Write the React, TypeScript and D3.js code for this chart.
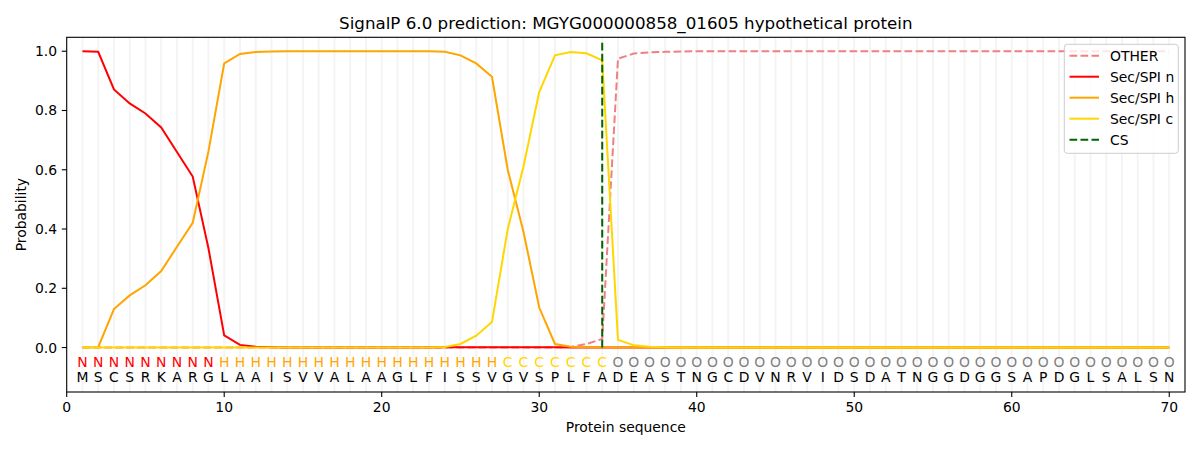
import * as d3 from "d3"

const TITLE = "SignalP 6.0 prediction: MGYG000000858_01605 hypothetical protein"

const residues = "M S C S R K A R G L A A I S V V A L A A G L F I S S V G V S P L F A D E A S T N G C D V N R V I D S D A T N G G D G G S A P D G L S A L S N".split(" ")
const regions = "N N N N N N N N N H H H H H H H H H H H H H H H H H H C C C C C C C O O O O O O O O O O O O O O O O O O O O O O O O O O O O O O O O O O O O".split(" ")

const otherVals = [
  0, 0, 0, 0, 0, 0, 0, 0, 0, 0,
  0, 0, 0, 0, 0, 0, 0, 0, 0, 0,
  0, 0, 0, 0, 0, 0, 0, 0, 0, 0,
  0, 0.002, 0.012, 0.029, 0.975, 0.992, 0.996, 0.998, 0.999, 1,
  1, 1, 1, 1, 1, 1, 1, 1, 1, 1,
  1, 1, 1, 1, 1, 1, 1, 1, 1, 1,
  1, 1, 1, 1, 1, 1, 1, 1, 1, 1,
]
const nVals = [
  1.0, 0.998, 0.871, 0.824, 0.79, 0.743, 0.66, 0.577, 0.335, 0.041,
  0.009, 0.003, 0.001, 0, 0, 0, 0, 0, 0, 0,
  0, 0, 0, 0.001, 0.001, 0.001, 0.001, 0.001, 0.001, 0.001,
  0.001, 0, 0, 0, 0, 0, 0, 0, 0, 0,
  0, 0, 0, 0, 0, 0, 0, 0, 0, 0,
  0, 0, 0, 0, 0, 0, 0, 0, 0, 0,
  0, 0, 0, 0, 0, 0, 0, 0, 0, 0,
]
const hVals = [
  0, 0.001, 0.13, 0.176, 0.21, 0.258, 0.34, 0.421, 0.662, 0.959,
  0.991, 0.997, 0.999, 1, 1, 1, 1, 1, 1, 1,
  1, 1, 1, 0.998, 0.986, 0.959, 0.914, 0.6, 0.391, 0.135,
  0.012, 0.003, 0.001, 0.001, 0, 0, 0, 0, 0, 0,
  0, 0, 0, 0, 0, 0, 0, 0, 0, 0,
  0, 0, 0, 0, 0, 0, 0, 0, 0, 0,
  0, 0, 0, 0, 0, 0, 0, 0, 0, 0,
]
const cVals = [
  0, 0, 0, 0, 0, 0, 0, 0, 0, 0,
  0, 0, 0, 0, 0, 0, 0, 0, 0, 0,
  0, 0, 0, 0.002, 0.012, 0.04, 0.086, 0.399, 0.611, 0.862,
  0.986, 0.997, 0.993, 0.969, 0.026, 0.008, 0.003, 0.001, 0, 0,
  0, 0, 0, 0, 0, 0, 0, 0, 0, 0,
  0, 0, 0, 0, 0, 0, 0, 0, 0, 0,
  0, 0, 0, 0, 0, 0, 0, 0, 0, 0,
]
const CS_POS = 34

const xTicks = [0, 10, 20, 30, 40, 50, 60, 70]
const yTicks = [0, 0.2, 0.4, 0.6, 0.8, 1.0]

const series = [
  { name: "OTHER", values: otherVals, color: "#f08080", dash: "7.7,3.3" },
  { name: "Sec/SPI n", values: nVals, color: "red", dash: null },
  { name: "Sec/SPI h", values: hVals, color: "orange", dash: null },
  { name: "Sec/SPI c", values: cVals, color: "gold", dash: null },
]

const regionColor: Record<string, string> = { N: "red", H: "orange", C: "gold", O: "gray" }

const W = 1200
const H = 450
const M = { left: 66.7, right: 1185, top: 37.3, bottom: 392 }
const FONT = "DejaVu Sans, sans-serif"

export default function App() {
  const x = d3.scaleLinear().domain([0, 71]).range([M.left, M.right])
  const y = d3.scaleLinear().domain([-0.15, 1.047]).range([M.bottom, M.top])

  const line = d3
    .line<number>()
    .x((_, i) => x(i + 1))
    .y((d) => y(d))

  const legendItems = [
    ...series.map((s) => ({ name: s.name, color: s.color, dash: s.dash })),
    { name: "CS", color: "darkgreen", dash: "7.7,3.3" },
  ]

  return (
    <svg
      width={W}
      height={H}
      style={{ position: "absolute", left: 0, top: 0, background: "white" }}
      fontFamily={FONT}
    >
      {/* per-residue gridlines */}
      {residues.map((_, i) => (
        <line
          key={`g${i}`}
          x1={x(i + 1)}
          x2={x(i + 1)}
          y1={M.top}
          y2={M.bottom}
          stroke="#f4f4f4"
          strokeWidth={2}
        />
      ))}

      {series.map((s) => (
        <path
          key={s.name}
          d={line(s.values) ?? ""}
          fill="none"
          stroke={s.color}
          strokeWidth={2}
          strokeDasharray={s.dash ?? undefined}
        />
      ))}

      <line
        x1={x(CS_POS)}
        x2={x(CS_POS)}
        y1={y(0)}
        y2={y(1.035)}
        stroke="darkgreen"
        strokeWidth={2}
        strokeDasharray="7.7,3.3"
      />

      {/* region letters + sequence */}
      {residues.map((r, i) => (
        <g key={`t${i}`} fontSize={13.9} textAnchor="middle" dominantBaseline="central">
          <text x={x(i + 1)} y={y(-0.05)} fill={regionColor[regions[i]]}>
            {regions[i]}
          </text>
          <text x={x(i + 1)} y={y(-0.1)} fill="black">
            {r}
          </text>
        </g>
      ))}

      {/* axes frame */}
      <rect
        x={M.left}
        y={M.top}
        width={M.right - M.left}
        height={M.bottom - M.top}
        fill="none"
        stroke="black"
        strokeWidth={1.1}
      />

      {xTicks.map((t) => (
        <g key={`x${t}`}>
          <line x1={x(t)} x2={x(t)} y1={M.bottom} y2={M.bottom + 4.9} stroke="black" strokeWidth={1.1} />
          <text x={x(t)} y={M.bottom + 9.7} fontSize={13.9} textAnchor="middle" dominantBaseline="hanging">
            {t}
          </text>
        </g>
      ))}
      {yTicks.map((t) => (
        <g key={`y${t}`}>
          <line x1={M.left - 4.9} x2={M.left} y1={y(t)} y2={y(t)} stroke="black" strokeWidth={1.1} />
          <text x={M.left - 9.7} y={y(t)} fontSize={13.9} textAnchor="end" dominantBaseline="central">
            {t.toFixed(1)}
          </text>
        </g>
      ))}

      <text x={(M.left + M.right) / 2} y={432} fontSize={13.9} textAnchor="middle">
        Protein sequence
      </text>
      <text
        transform={`translate(26,${(M.top + M.bottom) / 2}) rotate(-90)`}
        fontSize={13.9}
        textAnchor="middle"
      >
        Probability
      </text>
      <text x={(M.left + M.right) / 2} y={29} fontSize={16.7} textAnchor="middle">
        {TITLE}
      </text>

      {/* legend */}
      <g>
        <rect
          x={1064.3}
          y={44.3}
          width={114}
          height={109}
          rx={3}
          fill="white"
          fillOpacity={0.8}
          stroke="#cccccc"
          strokeWidth={1}
        />
        {legendItems.map((it, i) => {
          const cy = 55.7 + i * 21
          return (
            <g key={it.name}>
              <line
                x1={1069.5}
                x2={1099}
                y1={cy}
                y2={cy}
                stroke={it.color}
                strokeWidth={2}
                strokeDasharray={it.dash ?? undefined}
              />
              <text x={1110} y={cy} fontSize={13.9} dominantBaseline="central">
                {it.name}
              </text>
            </g>
          )
        })}
      </g>
    </svg>
  )
}
